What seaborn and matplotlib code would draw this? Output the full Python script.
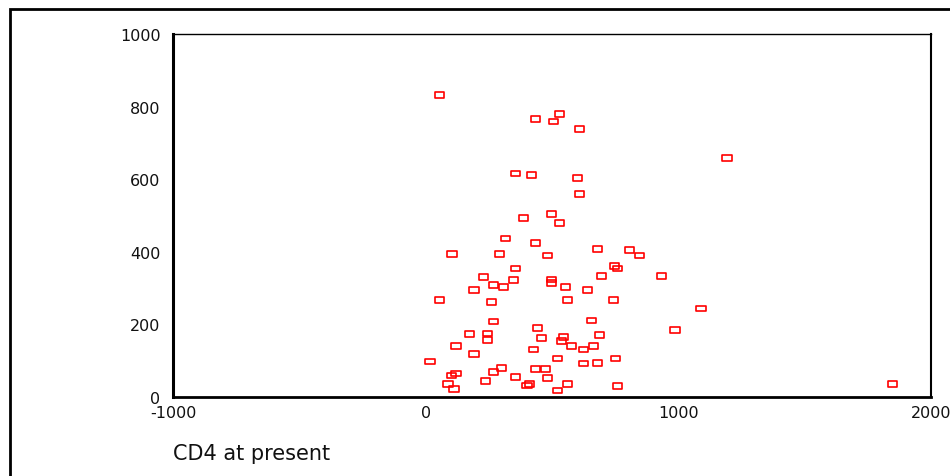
import numpy as np
import pandas as pd
import matplotlib.pyplot as plt
import seaborn as sns
from matplotlib.path import Path
from matplotlib.patches import Rectangle

# CD4 at present (x) vs second measure (y)
cd4_present = [
    55, 435, 530, 506, 609, 356, 419, 601, 609, 388, 498, 530, 317, 435,
    104, 293, 482, 680, 806, 845, 356, 748, 759, 230, 348, 498, 498, 696,
    932, 269, 309, 553, 191, 640, 56, 262, 561, 743, 1090, 269, 656, 443,
    987, 175, 246, 246, 459, 546, 538, 688, 120, 577, 664, 427, 624, 191,
    522, 751, 17, 624, 680, 301, 435, 475, 269, 120, 101, 356, 482, 238,
    88, 401, 411, 561, 759, 112, 522, 1848, 1193,
]
cd4_other = [
    832, 766, 780, 759, 739, 616, 612, 603, 559, 493, 504, 480, 437, 424,
    394, 394, 390, 407, 404, 390, 354, 361, 354, 331, 323, 324, 314, 334,
    334, 308, 304, 304, 294, 294, 268, 261, 268, 268, 244, 208, 211, 191,
    185, 174, 175, 158, 162, 165, 155, 171, 141, 141, 141, 131, 131, 118,
    106, 106, 98, 92, 94, 79, 78, 78, 68, 65, 59, 55, 52, 45,
    35, 32, 35, 35, 31, 22, 18, 35, 659,
]
x_ticks = [-1000, 0, 1000, 2000]
y_ticks = [0, 200, 400, 600, 800, 1000]

df = pd.DataFrame({"CD4 at present": cd4_present, "other": cd4_other})

sns.set_style("white")
plt.rcParams["font.family"] = ["DejaVu Sans"]
plt.rcParams["axes.unicode_minus"] = False

fig = plt.figure(figsize=(9.5, 4.77), dpi=100)
ax = fig.add_axes([173 / 950, 79 / 477, (931 - 173) / 950, (398 - 35) / 477])

# wide hollow rectangle marker like the original
box = Path([(-1, -0.62), (1, -0.62), (1, 0.62), (-1, 0.62), (-1, -0.62)],
           [Path.MOVETO, Path.LINETO, Path.LINETO, Path.LINETO, Path.CLOSEPOLY])
sns.scatterplot(data=df, x="CD4 at present", y="other", ax=ax, marker=box,
                s=44, facecolors="none", edgecolor="#ff0000", linewidth=1.2,
                legend=False)

ax.set_xlim(-1000, 2000)
ax.set_ylim(0, 1000)
ax.set_xticks(x_ticks)
ax.set_yticks(y_ticks)
ax.tick_params(axis="both", direction="out", length=3, width=3, color="black",
               labelsize=11.5, labelcolor="#111111")
ax.tick_params(axis="y", pad=6)
ax.tick_params(axis="x", pad=3)
ax.set_ylabel("")
ax.set_xlabel("CD4 at present", loc="left", fontsize=15, labelpad=16,
              color="#111111")

for side, lw in [("left", 2.2), ("bottom", 2.0), ("top", 1.0), ("right", 1.5)]:
    ax.spines[side].set_visible(True)
    ax.spines[side].set_color("black")
    ax.spines[side].set_linewidth(lw)

# outer frame, cut off at right and bottom edges like the reference
fig.patches.append(Rectangle((10 / 950, -0.2), 1.2, (467 / 477) + 0.2,
                             transform=fig.transFigure, fill=False,
                             edgecolor="black", linewidth=2.0))

fig.savefig("out.png", dpi=100)
